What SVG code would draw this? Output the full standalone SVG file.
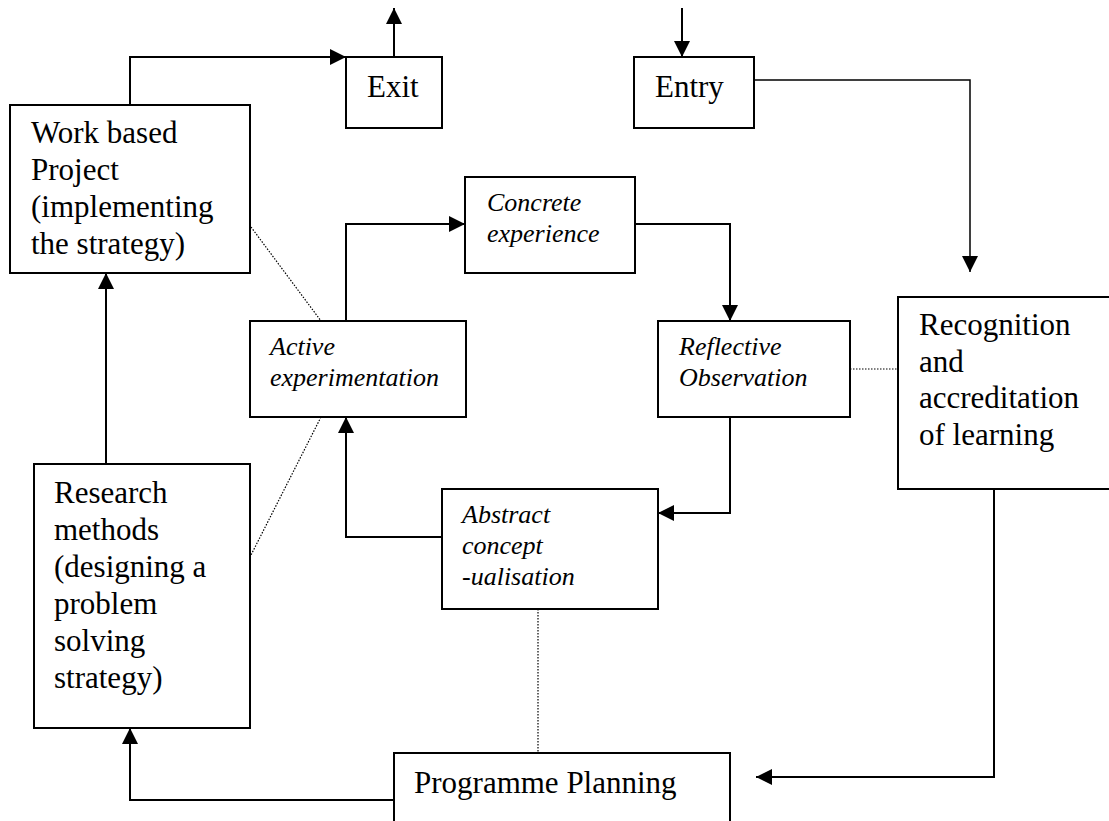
<svg xmlns="http://www.w3.org/2000/svg" width="1109" height="821" viewBox="0 0 1109 821">
<style>
.box{fill:#fff;stroke:#000;stroke-width:2}
.t{font-family:"Liberation Serif","Times New Roman",serif;font-size:31px;fill:#000}
.i{font-family:"Liberation Serif","Times New Roman",serif;font-size:26px;font-style:italic;fill:#000}
.c{fill:none;stroke:#000;stroke-width:2;marker-end:url(#ah)}
.thin{stroke-width:1.5}
.d{fill:none;stroke:#000;stroke-width:1.2;stroke-dasharray:1.5 1.5}
</style>
<defs>
<marker id="ah" viewBox="0 0 16 16" refX="16" refY="8" markerWidth="16" markerHeight="16" markerUnits="userSpaceOnUse" orient="auto">
<path d="M0,0 L16,8 L0,16 Z" fill="#000"/>
</marker>
</defs>
<rect width="1109" height="821" fill="#fff"/>
<g id="connectors">
<polyline class="c" points="130,105 130,57 346,57"/>
<polyline class="c" points="394,57 394,8"/>
<polyline class="c" points="682,8 682,57"/>
<polyline class="c thin" points="754,80 970,80 970,272"/>
<polyline class="c" points="346,321 346,224 465,224"/>
<polyline class="c" points="635,224 730,224 730,321"/>
<polyline class="c" points="730,417 730,513 658,513"/>
<polyline class="c" points="442,537 346,537 346,417"/>
<polyline class="c" points="106,464 106,273"/>
<polyline class="c" points="394,800 130,800 130,728"/>
<polyline class="c" points="994,489 994,777 756,777"/>
<line class="d" x1="251" y1="227" x2="321" y2="321"/>
<line class="d" x1="321" y1="417" x2="250" y2="557"/>
<line class="d" x1="850" y1="369" x2="898" y2="369"/>
<line class="d" x1="538" y1="609" x2="538" y2="753"/>
</g>
<g id="exit">
<rect class="box" x="346" y="57" width="96" height="71"/>
<text class="t" x="367" y="97">Exit</text>
</g>
<g id="entry">
<rect class="box" x="634" y="57" width="120" height="71"/>
<text class="t" x="655" y="97">Entry</text>
</g>
<g id="work-based-project">
<rect class="box" x="10" y="105" width="240" height="168"/>
<text class="t" x="31" y="143">Work based</text>
<text class="t" x="31" y="180">Project</text>
<text class="t" x="31" y="217">(implementing</text>
<text class="t" x="31" y="254">the strategy)</text>
</g>
<g id="concrete-experience">
<rect class="box" x="465" y="177" width="170" height="96"/>
<text class="i" x="487" y="211">Concrete</text>
<text class="i" x="487" y="242">experience</text>
</g>
<g id="active-experimentation">
<rect class="box" x="250" y="321" width="216" height="96"/>
<text class="i" x="270" y="355">Active</text>
<text class="i" x="270" y="386">experimentation</text>
</g>
<g id="reflective-observation">
<rect class="box" x="658" y="321" width="192" height="96"/>
<text class="i" x="679" y="355">Reflective</text>
<text class="i" x="679" y="386">Observation</text>
</g>
<g id="recognition">
<rect class="box" x="898" y="297" width="220" height="192"/>
<text class="t" x="919" y="335">Recognition</text>
<text class="t" x="919" y="372">and</text>
<text class="t" x="919" y="408">accreditation</text>
<text class="t" x="919" y="445">of learning</text>
</g>
<g id="abstract-conceptualisation">
<rect class="box" x="442" y="489" width="216" height="120"/>
<text class="i" x="462" y="523">Abstract</text>
<text class="i" x="462" y="554">concept</text>
<text class="i" x="462" y="585">-ualisation</text>
</g>
<g id="research-methods">
<rect class="box" x="34" y="464" width="216" height="264"/>
<text class="t" x="54" y="503">Research</text>
<text class="t" x="54" y="540">methods</text>
<text class="t" x="54" y="577">(designing a</text>
<text class="t" x="54" y="614">problem</text>
<text class="t" x="54" y="651">solving</text>
<text class="t" x="54" y="688">strategy)</text>
</g>
<g id="programme-planning">
<rect class="box" x="394" y="753" width="336" height="100"/>
<text class="t" x="414" y="793">Programme Planning</text>
</g>
</svg>
